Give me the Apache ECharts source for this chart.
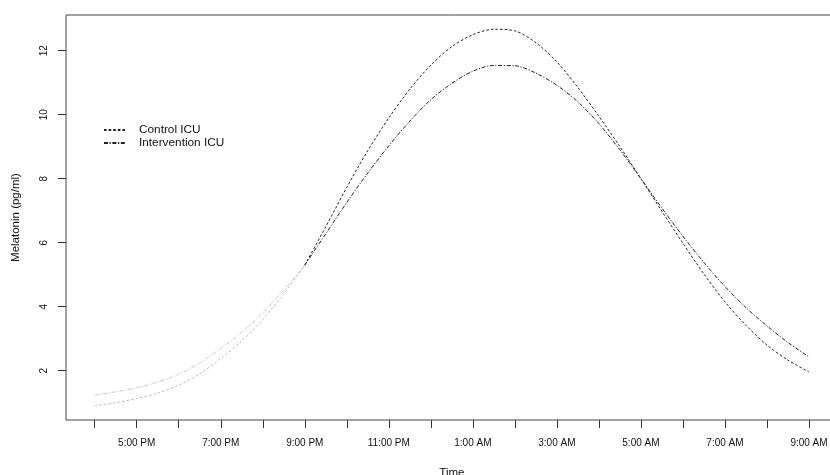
<!DOCTYPE html>
<html>
<head>
<meta charset="utf-8">
<script src="https://cdn.jsdelivr.net/npm/echarts@6/dist/echarts.min.js"></script>
<style>
html,body{margin:0;padding:0;background:#fff;}
#chart{width:830px;height:475px;}
</style>
</head>
<body>
<div id="chart"></div>
<script>
// Hours of the day, half-hourly (16 = 4 PM, 24 = midnight, 33 = 9 AM next day)
const hours = [16, 16.5, 17, 17.5, 18, 18.5, 19, 19.5, 20, 20.5, 21, 21.5, 22, 22.5, 23, 23.5, 24, 24.5,
               25, 25.5, 26, 26.5, 27, 27.5, 28, 28.5, 29, 29.5, 30, 30.5, 31, 31.5, 32, 32.5, 33];
const controlICU = [0.91, 1.0, 1.13, 1.3, 1.55, 1.9, 2.38, 2.93, 3.6, 4.4, 5.3, 6.5, 7.73, 8.88, 9.9, 10.8, 11.55, 12.13,
                    12.5, 12.67, 12.62, 12.25, 11.65, 10.85, 9.95, 9.0, 8.0, 6.98, 5.98, 5.02, 4.15, 3.42, 2.8, 2.33, 1.96];
const interventionICU = [1.24, 1.34, 1.47, 1.65, 1.89, 2.24, 2.7, 3.2, 3.82, 4.52, 5.3, 6.28, 7.26, 8.18, 9.03, 9.8, 10.47, 10.98,
                         11.36, 11.54, 11.53, 11.3, 10.92, 10.4, 9.72, 8.9, 8.0, 7.08, 6.2, 5.38, 4.63, 3.97, 3.4, 2.88, 2.43];
const splitHour = 21; // curves drawn light grey before 9 PM
const xTickHours = [16, 17, 18, 19, 20, 21, 22, 23, 24, 25, 26, 27, 28, 29, 30, 31, 32, 33];
const xLabelHours = [17, 19, 21, 23, 25, 27, 29, 31, 33];
const xLabelTexts = ['5:00 PM', '7:00 PM', '9:00 PM', '11:00 PM', '1:00 AM', '3:00 AM', '5:00 AM', '7:00 AM', '9:00 AM'];
const yTicks = [2, 4, 6, 8, 10, 12];

const pairs = (vals) => hours.map((h, i) => [h, vals[i]]);
const early = (vals) => pairs(vals).filter(p => p[0] <= splitHour);
const late = (vals) => pairs(vals).filter(p => p[0] >= splitHour);

const dashControl = [2.6, 2];
const dashInterv = [4, 1.6, 1.2, 1.6];
const font = 'Liberation Sans, Arial, sans-serif';

const chart = echarts.init(document.getElementById('chart'), null, {renderer: 'canvas'});
chart.setOption({
  animation: false,
  backgroundColor: '#fff',
  textStyle: {fontFamily: font},
  grid: {left: 66, top: 15, width: 771.7, height: 405, show: true, borderColor: '#444', borderWidth: 1,
         containLabel: false, outerBoundsMode: 'none'},
  legend: {
    data: ['Control ICU', 'Intervention ICU'],
    orient: 'vertical', left: 103, top: 124, padding: 0,
    itemWidth: 22, itemHeight: 8, itemGap: 1,
    itemStyle: {opacity: 0},
    textStyle: {fontSize: 11.8, color: '#111', fontFamily: font, padding: [0, 0, 0, 8], lineHeight: 12},
    selectedMode: false
  },
  xAxis: {
    type: 'value', min: 15.317, max: 33.683,
    name: 'Time', nameLocation: 'middle', nameGap: 47,
    nameTextStyle: {fontSize: 11.5, color: '#111', fontFamily: font},
    axisLine: {show: false},
    splitLine: {show: false},
    axisTick: {show: true, length: 8, lineStyle: {color: '#333'}, customValues: xTickHours},
    axisLabel: {
      customValues: xLabelHours, margin: 18, fontSize: 10, color: '#111', fontFamily: font,
      formatter: (v) => { const i = xLabelHours.indexOf(Math.round(v)); return i >= 0 ? xLabelTexts[i] : ''; }
    }
  },
  yAxis: {
    type: 'value', min: 0.459, max: 13.116,
    name: 'Melatonin (pg/ml)', nameLocation: 'middle', nameGap: 44, nameRotate: 90,
    nameTextStyle: {fontSize: 11.5, color: '#111', fontFamily: font},
    axisLine: {show: false},
    splitLine: {show: false},
    axisTick: {show: true, length: 8, lineStyle: {color: '#333'}, customValues: yTicks},
    axisLabel: {customValues: yTicks, rotate: 90, margin: 17, fontSize: 10, color: '#111', fontFamily: font}
  },
  series: [
    {name: 'Control ICU early', type: 'line', data: early(controlICU), smooth: 0.3, symbol: 'none',
     itemStyle: {color: '#bdbdbd'}, lineStyle: {color: '#bdbdbd', width: 1, type: dashControl}},
    {name: 'Intervention ICU early', type: 'line', data: early(interventionICU), smooth: 0.3, symbol: 'none',
     itemStyle: {color: '#c8c8c8'}, lineStyle: {color: '#c8c8c8', width: 1, type: dashInterv}},
    {name: 'Control ICU', type: 'line', data: late(controlICU), smooth: 0.3, symbol: 'none',
     itemStyle: {color: '#222'}, lineStyle: {color: '#222', width: 1, type: dashControl}},
    {name: 'Intervention ICU', type: 'line', data: late(interventionICU), smooth: 0.3, symbol: 'none',
     itemStyle: {color: '#222'}, lineStyle: {color: '#222', width: 1, type: dashInterv}}
  ]
});
</script>
</body>
</html>
